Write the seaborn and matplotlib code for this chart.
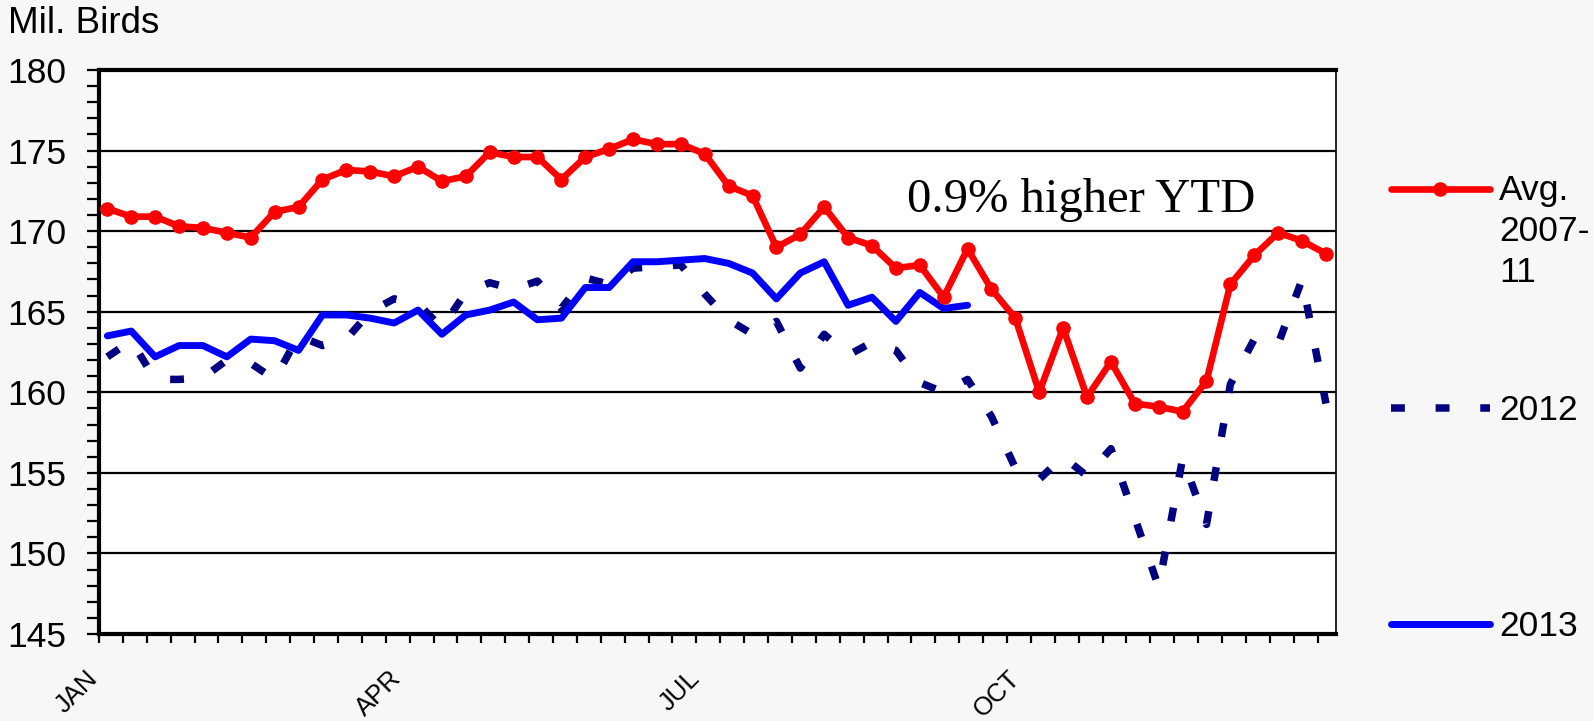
import numpy as np
import pandas as pd
import seaborn as sns
import matplotlib.pyplot as plt
from matplotlib.lines import Line2D
from matplotlib.ticker import MultipleLocator, FixedLocator, NullFormatter

# weekly broiler placements, million birds
avg_0711 = [171.4, 170.9, 170.9, 170.3, 170.2, 169.9, 169.6, 171.2, 171.5, 173.2,
            173.8, 173.7, 173.4, 174.0, 173.1, 173.4, 174.9, 174.6, 174.6, 173.2,
            174.6, 175.1, 175.7, 175.4, 175.4, 174.8, 172.8, 172.2, 169.0, 169.8,
            171.5, 169.6, 169.1, 167.7, 167.9, 165.9, 168.9, 166.4, 164.6, 160.0,
            164.0, 159.7, 161.9, 159.3, 159.1, 158.8, 160.7, 166.7, 168.5, 169.9,
            169.4, 168.6]
y2012 = [162.2, 163.2, 160.8, 160.8, 160.9, 162.0, 161.8, 160.8, 163.5, 162.9,
         163.3, 165.0, 165.8, 165.5, 164.0, 166.2, 166.8, 166.4, 166.9, 165.2,
         167.1, 166.7, 167.7, 167.8, 167.9, 166.1, 164.5, 163.6, 164.4, 161.5,
         163.6, 162.3, 163.1, 162.6, 160.6, 160.0, 160.8, 158.5, 155.3, 154.6,
         156.0, 154.8, 156.5, 152.2, 147.9, 155.9, 151.8, 160.5, 163.3, 163.0,
         167.0, 159.3]
y2013 = [163.5, 163.8, 162.2, 162.9, 162.9, 162.2, 163.3, 163.2, 162.6, 164.8,
         164.8, 164.6, 164.3, 165.1, 163.6, 164.8, 165.1, 165.6, 164.5, 164.6,
         166.5, 166.5, 168.1, 168.1, 168.2, 168.3, 168.0, 167.4, 165.8, 167.4,
         168.1, 165.4, 165.9, 164.4, 166.2, 165.2, 165.4]
series_names = ["Avg.\n2007-\n11", "2012", "2013"]
month_labels = ["JAN", "APR", "JUL", "OCT"]
note = "0.9% higher YTD"

W, H = 1594, 721

sns.set_style("white")
plt.rcParams["font.family"] = ["Liberation Sans", "DejaVu Sans"]
plt.rcParams["text.color"] = "black"
plt.rcParams["xtick.color"] = "black"
plt.rcParams["ytick.color"] = "black"
plt.rcParams["xtick.labelcolor"] = "black"
plt.rcParams["ytick.labelcolor"] = "black"

frames = []
for name, vals in zip(series_names, [avg_0711, y2012, y2013]):
    frames.append(pd.DataFrame({"week": np.arange(len(vals)), "birds": vals, "series": name}))
df = pd.concat(frames, ignore_index=True)

styles = {
    "Avg.\n2007-\n11": dict(color="#ff0000", lw=4.8, marker="o", markersize=10.5,
                            markeredgewidth=0, linestyle="-", zorder=4),
    "2012": dict(color="#000080", lw=5.4, linestyle=(0, (1.85, 4.1)), zorder=2),
    "2013": dict(color="#0000ff", lw=5.0, linestyle="-", zorder=3),
}

fig = plt.figure(figsize=(W / 100, H / 100), dpi=100, facecolor="#f7f7f7")
ax = fig.add_axes([99 / W, 1 - 634 / H, (1336 - 99) / W, (634 - 70) / H])
ax.set_facecolor("white")

for name in series_names:
    sns.lineplot(data=df[df["series"] == name], x="week", y="birds", ax=ax,
                 legend=False, **styles[name])

x0 = -0.35
ax.set_xlim(x0, 51.42)
ax.set_ylim(145, 180)
ax.set_xlabel("")
ax.set_ylabel("")

ax.yaxis.set_major_locator(MultipleLocator(5))
ax.yaxis.set_minor_locator(MultipleLocator(1))
ax.tick_params(axis="y", which="both", direction="out", length=8.6, width=1.6,
               left=True, labelsize=25.5, pad=15, color="black", labelcolor="black")

ax.xaxis.set_minor_locator(FixedLocator(x0 + np.arange(53)))
ax.xaxis.set_minor_formatter(NullFormatter())
ax.set_xticks([-0.2, 12.5, 25.0, 38.4])
ax.set_xticklabels(month_labels, rotation=45, ha="right", va="top", fontsize=18.5)
ax.tick_params(axis="x", which="minor", direction="out", length=6.5, width=1.6,
               bottom=True, color="black")
ax.tick_params(axis="x", which="major", length=0, pad=23, labelcolor="black")

ax.grid(axis="y", which="major", color="black", lw=1.6)
ax.grid(axis="x", visible=False)
ax.set_axisbelow(True)
for side in ["left", "top", "bottom"]:
    ax.spines[side].set_linewidth(3)
    ax.spines[side].set_color("black")
ax.spines["right"].set_linewidth(1.2)
ax.spines["right"].set_color("black")

ax.text(33.45, 171.2, note, family=["Liberation Serif", "DejaVu Serif"],
        fontsize=35, va="baseline", ha="left", color="black")

fig.text(8 / W, 1 - 33 / H, "Mil. Birds", fontsize=26.5, va="baseline", ha="left",
         color="black")

# legend drawn at the right, entries spaced like the original
legend_y = {"Avg.\n2007-\n11": 189, "2012": 408, "2013": 624}
for name in series_names:
    st = styles[name]
    y = 1 - legend_y[name] / H
    xs = [1391 / W, 1440 / W, 1490 / W]
    handle = Line2D(xs, [y, y, y], transform=fig.transFigure, color=st["color"],
                    lw=st["lw"], linestyle=st["linestyle"],
                    marker=st.get("marker", None), markersize=st.get("markersize", 0),
                    markeredgewidth=0, markevery=[1])
    fig.add_artist(handle)
    if "\n" in name:
        fig.text(1499 / W, 1 - (legend_y[name] - 15) / H, name, fontsize=25.5,
                 va="top", ha="left", linespacing=1.3, color="black")
    else:
        fig.text(1499 / W, 1 - (legend_y[name] + 2) / H, name, fontsize=25.5,
                 va="center", ha="left", color="black")

fig.savefig("out.png", dpi=100, facecolor=fig.get_facecolor())
